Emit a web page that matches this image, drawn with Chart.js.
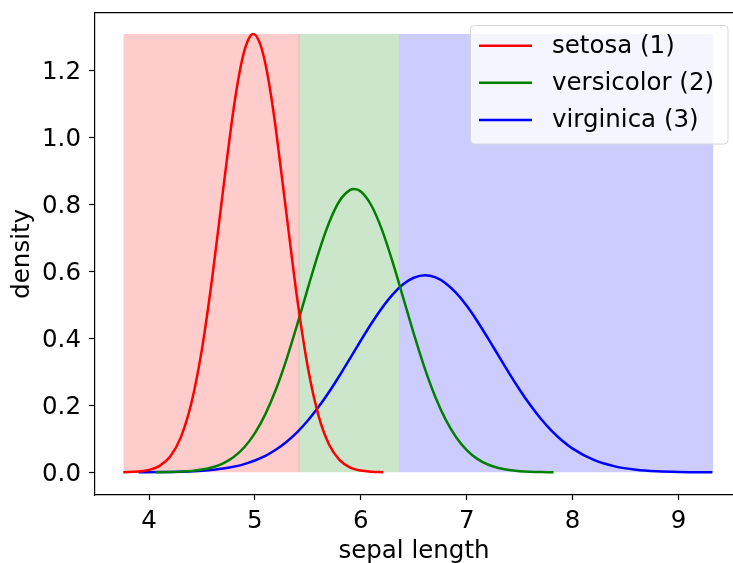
<!DOCTYPE html>
<html>
<head>
<meta charset="utf-8">
<script src="https://cdn.jsdelivr.net/npm/chart.js@4.4.1/dist/chart.umd.min.js"></script>
<style>
  html, body { margin: 0; padding: 0; background: #ffffff; }
  canvas { display: block; }
</style>
</head>
<body>
<canvas id="c" width="733" height="563"></canvas>
<script>
// ---- data ----
const seriesNames = ['setosa (1)', 'versicolor (2)', 'virginica (3)'];
const seriesColors = ['#ff0000', '#008000', '#0000ff'];

const setosaX = [3.757, 3.9, 4.0, 4.1, 4.2, 4.3, 4.4, 4.5, 4.6, 4.7, 4.8, 4.85, 4.9, 4.95, 4.985, 5.05, 5.1, 5.15, 5.2, 5.3, 5.4, 5.5, 5.6, 5.7, 5.8, 5.9, 6.0, 6.1, 6.213];
const setosaY = [0.0004, 0.0023, 0.0070, 0.0192, 0.0472, 0.1044, 0.2070, 0.3684, 0.5891, 0.8454, 1.0893, 1.1874, 1.2600, 1.3014, 1.3106, 1.2805, 1.2199, 1.1312, 1.0210, 0.7673, 0.5176, 0.3135, 0.1704, 0.0832, 0.0364, 0.0143, 0.0051, 0.0016, 0.0004];

const versicolorX = [4.06, 4.2, 4.3, 4.4, 4.5, 4.6, 4.7, 4.8, 4.9, 5.0, 5.1, 5.2, 5.3, 5.4, 5.5, 5.6, 5.7, 5.8, 5.9, 5.937, 6.0, 6.1, 6.2, 6.3, 6.4, 6.5, 6.6, 6.7, 6.8, 6.9, 7.0, 7.1, 7.2, 7.3, 7.4, 7.5, 7.6, 7.7, 7.82];
const versicolorY = [0.0003, 0.0009, 0.0020, 0.0041, 0.0081, 0.0151, 0.0269, 0.0460, 0.0750, 0.1171, 0.1747, 0.2490, 0.3394, 0.4422, 0.5507, 0.6557, 0.7463, 0.8120, 0.8444, 0.8470, 0.8395, 0.7978, 0.7248, 0.6293, 0.5225, 0.4146, 0.3145, 0.2280, 0.1581, 0.1048, 0.0664, 0.0402, 0.0233, 0.0129, 0.0068, 0.0034, 0.0017, 0.0008, 0.0003];

const virginicaX = [3.9, 4.1, 4.3, 4.5, 4.7, 4.9, 5.1, 5.2, 5.3, 5.4, 5.5, 5.6, 5.7, 5.8, 5.9, 6.0, 6.1, 6.2, 6.3, 6.4, 6.5, 6.607, 6.7, 6.8, 6.9, 7.0, 7.1, 7.2, 7.3, 7.4, 7.5, 7.6, 7.7, 7.8, 7.9, 8.0, 8.2, 8.4, 8.6, 8.8, 9.0, 9.2, 9.32];
const virginicaY = [0.0002, 0.0006, 0.0018, 0.0046, 0.0112, 0.0245, 0.0494, 0.0680, 0.0913, 0.1202, 0.1547, 0.1949, 0.2401, 0.2894, 0.3414, 0.3941, 0.4450, 0.4916, 0.5315, 0.5621, 0.5817, 0.5890, 0.5835, 0.5655, 0.5364, 0.4977, 0.4518, 0.4013, 0.3488, 0.2966, 0.2468, 0.2009, 0.1600, 0.1247, 0.0951, 0.0709, 0.0370, 0.0177, 0.0077, 0.0031, 0.0011, 0.0004, 0.0002];

// decision regions (x edges) and their height
const regionEdges = [3.757, 5.417, 6.365, 9.33];
const regionTop = 1.3106;
const regionColors = ['rgba(255,0,0,0.2)', 'rgba(0,128,0,0.2)', 'rgba(0,0,255,0.2)'];

const xTicks = [4, 5, 6, 7, 8, 9];
const yTicks = [0.0, 0.2, 0.4, 0.6, 0.8, 1.0, 1.2];
const xTitle = 'sepal length';
const yTitle = 'density';

// ---- build datasets ----
const FONT = "'DejaVu Sans', sans-serif";
const FSIZE = 24.5;
function pts(xs, ys) { return xs.map((x, i) => ({ x: x, y: ys[i] })); }

const curveSets = [[setosaX, setosaY], [versicolorX, versicolorY], [virginicaX, virginicaY]];
const datasets = [];
curveSets.forEach((s, i) => {
  datasets.push({
    label: seriesNames[i],
    data: pts(s[0], s[1]),
    borderColor: seriesColors[i],
    backgroundColor: seriesColors[i],
    borderWidth: 2.5,
    pointRadius: 0,
    cubicInterpolationMode: 'monotone',
    fill: false,
    isCurve: true
  });
});
// boundary seams
[regionEdges[1], regionEdges[2]].forEach((e) => {
  datasets.push({
    label: '',
    data: [{ x: e, y: 0 }, { x: e, y: regionTop }],
    borderColor: 'rgba(120,130,120,0.25)',
    borderWidth: 1,
    pointRadius: 0,
    fill: false
  });
});
for (let i = 0; i < 3; i++) {
  datasets.push({
    label: '',
    data: [{ x: regionEdges[i], y: regionTop }, { x: regionEdges[i + 1], y: regionTop }],
    borderWidth: 0,
    borderColor: 'rgba(0,0,0,0)',
    backgroundColor: regionColors[i],
    pointRadius: 0,
    tension: 0,
    fill: 'origin'
  });
}

const framePlugin = {
  id: 'frame',
  afterDraw(chart) {
    const ctx = chart.ctx, a = chart.chartArea;
    ctx.save();
    ctx.strokeStyle = '#000';
    ctx.lineWidth = 1.2;
    ctx.beginPath();
    ctx.moveTo(a.left, a.top);
    ctx.lineTo(a.right, a.top);
    ctx.stroke();
    ctx.restore();
  }
};

const legendPlugin = {
  id: 'mplLegend',
  afterDraw(chart) {
    const ctx = chart.ctx;
    const bx = 470.5, by = 25.5, bw = 257.5, bh = 118.5, r = 4;
    ctx.save();
    ctx.beginPath();
    ctx.moveTo(bx + r, by);
    ctx.lineTo(bx + bw - r, by);
    ctx.arcTo(bx + bw, by, bx + bw, by + r, r);
    ctx.lineTo(bx + bw, by + bh - r);
    ctx.arcTo(bx + bw, by + bh, bx + bw - r, by + bh, r);
    ctx.lineTo(bx + r, by + bh);
    ctx.arcTo(bx, by + bh, bx, by + bh - r, r);
    ctx.lineTo(bx, by + r);
    ctx.arcTo(bx, by, bx + r, by, r);
    ctx.closePath();
    ctx.fillStyle = 'rgba(255,255,255,0.8)';
    ctx.fill();
    ctx.strokeStyle = '#d6d6d6';
    ctx.lineWidth = 1;
    ctx.stroke();
    const rows = [45.7, 82.7, 120];
    ctx.font = FSIZE + 'px ' + FONT;
    ctx.textBaseline = 'middle';
    ctx.textAlign = 'left';
    chart.data.datasets.filter(d => d.isCurve).forEach((d, i) => {
      ctx.strokeStyle = d.borderColor;
      ctx.lineWidth = 2.5;
      ctx.beginPath();
      ctx.moveTo(479, rows[i]);
      ctx.lineTo(532, rows[i]);
      ctx.stroke();
      ctx.fillStyle = '#000';
      ctx.fillText(d.label, 552, rows[i] + 1);
    });
    ctx.restore();
  }
};

new Chart(document.getElementById('c'), {
  type: 'line',
  data: { datasets: datasets },
  options: {
    responsive: false,
    animation: false,
    devicePixelRatio: 1,
    layout: { padding: { top: 12.7, left: 0, right: 0, bottom: 0 } },
    plugins: { legend: { display: false }, tooltip: { enabled: false } },
    scales: {
      x: {
        type: 'linear',
        min: 3.49,
        max: 9.5146,
        afterBuildTicks: (s) => { s.ticks = xTicks.map(v => ({ value: v })); },
        afterFit: (s) => { s.height = 68; s.paddingLeft = 0; s.paddingRight = 0; s.paddingTop = 0; s.paddingBottom = 0; },
        grid: { drawOnChartArea: false, drawTicks: true, tickLength: 5, color: '#000', tickWidth: 1.2 },
        border: { display: true, color: '#000', width: 1.2 },
        ticks: { color: '#000', font: { family: FONT, size: FSIZE }, padding: 7, maxRotation: 0, autoSkip: false,
                 callback: (v) => String(v) },
        title: { display: true, text: xTitle, color: '#000', font: { family: FONT, size: FSIZE }, padding: { top: 0, bottom: -3 } }
      },
      y: {
        type: 'linear',
        min: -0.0679,
        max: 1.3743,
        afterBuildTicks: (s) => { s.ticks = yTicks.map(v => ({ value: v })); },
        afterFit: (s) => { s.width = 95; s.paddingLeft = 0; s.paddingRight = 0; s.paddingTop = 0; s.paddingBottom = 0; },
        grid: { drawOnChartArea: false, drawTicks: true, tickLength: 6, color: '#000', tickWidth: 1.2 },
        border: { display: true, color: '#000', width: 1.2 },
        ticks: { color: '#000', font: { family: FONT, size: FSIZE }, padding: 8, labelOffset: 2,
                 callback: (v) => Number(v).toFixed(1) },
        title: { display: true, text: yTitle, color: '#000', font: { family: FONT, size: FSIZE }, padding: { top: 8, bottom: 0 } }
      }
    }
  },
  plugins: [framePlugin, legendPlugin]
});
</script>
</body>
</html>
